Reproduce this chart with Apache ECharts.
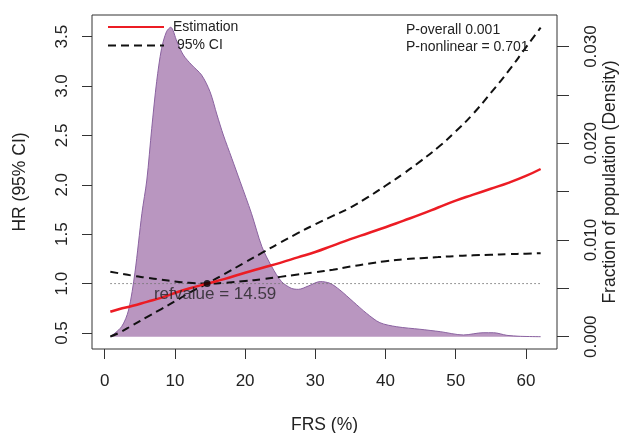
<!DOCTYPE html>
<html>
<head>
<meta charset="utf-8">
<style>
  html, body { margin: 0; padding: 0; background: #fff; }
  #chart { width: 621px; height: 433px; }
</style>
<script src="https://cdn.jsdelivr.net/npm/echarts@6/dist/echarts.min.js"></script>
</head>
<body>
<div id="chart"></div>
<script>
// FRS values where the spline curves were read
const frs = [0.8, 2, 4, 6, 8, 10, 12, 14.59, 17, 20, 22.5, 25, 27.5, 30, 32.5, 35, 37.5, 40, 42.5, 45, 47.5, 50, 52.5, 55, 57.5, 60, 62.1];
const hrEst = [0.715, 0.74, 0.775, 0.815, 0.855, 0.905, 0.95, 1.0, 1.045, 1.11, 1.16, 1.21, 1.265, 1.32, 1.385, 1.45, 1.51, 1.57, 1.635, 1.70, 1.77, 1.84, 1.90, 1.96, 2.02, 2.09, 2.16];
const hrUpper = [0.465, 0.50, 0.58, 0.66, 0.74, 0.82, 0.905, 1.0, 1.095, 1.215, 1.315, 1.415, 1.51, 1.60, 1.685, 1.77, 1.875, 1.99, 2.11, 2.24, 2.38, 2.54, 2.72, 2.93, 3.15, 3.39, 3.59];
const hrLower = [1.12, 1.105, 1.08, 1.06, 1.04, 1.022, 1.008, 1.0, 1.008, 1.026, 1.045, 1.068, 1.092, 1.115, 1.14, 1.172, 1.20, 1.227, 1.245, 1.257, 1.268, 1.279, 1.286, 1.292, 1.298, 1.303, 1.307];

// density of FRS in the population
const densX = [0.8, 2.4, 3.4, 4.3, 5.3, 6.0, 6.7, 7.4, 8.1, 8.8, 9.4, 10.3, 11.2, 12.4, 13.8, 15.0, 16.0, 16.9, 18.1, 19.3, 20.9, 22.4, 23.8, 25.2, 26.6, 27.6, 29.0, 30.7, 32.1, 33.5, 35.4, 37.3, 39.2, 41.6, 44.9, 47.8, 51.1, 53.9, 55.4, 57.3, 59.2, 62.1];
const densY = [0, 0.00103, 0.00276, 0.0066, 0.01276, 0.0162, 0.02155, 0.02637, 0.0298, 0.03154, 0.0320, 0.0305, 0.02913, 0.0281, 0.02706, 0.02534, 0.02293, 0.02086, 0.01845, 0.01603, 0.01276, 0.0093, 0.00724, 0.00569, 0.005, 0.0049, 0.00524, 0.0057, 0.00552, 0.00483, 0.00362, 0.00242, 0.00145, 0.00103, 0.00077, 0.00052, 0.00018, 0.00041, 0.00041, 0.00014, 0.00004, 0];

const refValue = 14.59;
const refLine = [[0.8, 1], [62.1, 1]];

const xTicks = [0, 10, 20, 30, 40, 50, 60];
const hrTicks = [0.5, 1.0, 1.5, 2.0, 2.5, 3.0, 3.5];
const densTicks = [0, 0.005, 0.010, 0.015, 0.020, 0.025, 0.030];
const densLabels = [0, 0.010, 0.020, 0.030];

const font = "'Liberation Sans', Arial, sans-serif";
const ink = "#222";

const pair = (xs, ys) => xs.map((x, i) => [x, ys[i]]);

const chart = echarts.init(document.getElementById("chart"));

const option = {
  animation: false,
  textStyle: { fontFamily: font },
  title: {
    text: "P-overall 0.001\nP-nonlinear = 0.701",
    left: 406,
    top: 21,
    padding: 0,
    textStyle: { fontSize: 14, fontWeight: "normal", color: ink, lineHeight: 17.3, fontFamily: font },
  },
  legend: {
    orient: "vertical",
    left: 107,
    top: 20,
    padding: 0,
    itemWidth: 56,
    itemHeight: 14,
    itemGap: 4.4,
    itemStyle: { opacity: 0 },
    data: ["Estimation", "95% CI"],
    formatter: (name) => (name === "95% CI" ? " " + name : name),
    textStyle: { fontSize: 14, color: ink, lineHeight: 14, fontFamily: font, padding: [0, 0, 0, 4] },
  },
  grid: {
    left: 92,
    top: 15,
    width: 465,
    height: 334,
    show: true,
    borderColor: "#333",
    borderWidth: 1,
    outerBoundsMode: "none",
  },
  xAxis: {
    type: "value",
    min: -1.81,
    max: 64.43,
    name: "FRS (%)",
    nameLocation: "middle",
    nameGap: 67,
    nameMoveOverlap: false,
    nameTextStyle: { fontSize: 17.5, color: ink, fontFamily: font },
    axisLine: { show: false, onZero: false },
    axisTick: { show: true, length: 10, customValues: xTicks, lineStyle: { color: "#333" } },
    axisLabel: { customValues: xTicks, fontSize: 17, color: ink, margin: 24, fontFamily: font },
    splitLine: { show: false },
  },
  yAxis: [
    {
      type: "value",
      min: 0.338,
      max: 3.7186,
      name: "HR (95% CI)",
      nameLocation: "middle",
      nameRotate: 90,
      nameGap: 63,
      nameMoveOverlap: false,
      nameTextStyle: { fontSize: 17.5, color: ink, fontFamily: font },
      axisLine: { show: false, onZero: false },
      axisTick: { show: true, length: 10, customValues: hrTicks, lineStyle: { color: "#333" } },
      axisLabel: {
        customValues: hrTicks,
        rotate: 90,
        fontSize: 17,
        color: ink,
        margin: 21,
        fontFamily: font,
        formatter: (v) => v.toFixed(1),
      },
      splitLine: { show: false },
    },
    {
      type: "value",
      position: "right",
      min: -0.001272,
      max: 0.033268,
      name: "Fraction of population (Density)",
      nameLocation: "middle",
      nameRotate: 90,
      nameGap: 44,
      nameMoveOverlap: false,
      nameTextStyle: { fontSize: 17.5, color: ink, fontFamily: font },
      axisLine: { show: false, onZero: false },
      axisTick: { show: true, length: 12, customValues: densTicks, lineStyle: { color: "#333" } },
      axisLabel: {
        customValues: densLabels,
        rotate: 90,
        fontSize: 17,
        color: ink,
        margin: 26,
        fontFamily: font,
        formatter: (v) => v.toFixed(3),
      },
      splitLine: { show: false },
    },
  ],
  series: [
    {
      name: "Density",
      type: "line",
      yAxisIndex: 1,
      data: pair(densX, densY),
      smooth: 0.3,
      symbol: "none",
      lineStyle: { color: "#8a62a0", width: 1 },
      areaStyle: { color: "#b996c0", opacity: 1 },
      z: 1,
    },
    {
      name: "ref",
      type: "line",
      data: refLine,
      symbol: "none",
      lineStyle: { color: "#777", width: 1, type: [1.5, 2.5] },
      z: 2,
    },
    {
      name: "95% CI",
      type: "line",
      data: pair(frs, hrUpper),
      smooth: true,
      symbol: "none",
      itemStyle: { color: "#111" },
      lineStyle: { color: "#111", width: 2, type: [8, 5] },
      z: 3,
    },
    {
      name: "95% CI",
      type: "line",
      data: pair(frs, hrLower),
      smooth: true,
      symbol: "none",
      itemStyle: { color: "#111" },
      lineStyle: { color: "#111", width: 2, type: [8, 5] },
      z: 3,
    },
    {
      name: "Estimation",
      type: "line",
      data: pair(frs, hrEst),
      smooth: true,
      symbol: "none",
      itemStyle: { color: "#ec1c24" },
      lineStyle: { color: "#ec1c24", width: 2.5 },
      z: 4,
    },
    {
      name: "refvalue",
      type: "scatter",
      data: [[refValue, 1]],
      symbolSize: 7,
      itemStyle: { color: "#000" },
      label: {
        show: true,
        position: "inside",
        offset: [8, 11],
        formatter: "refvalue = " + refValue,
        fontSize: 17,
        color: ink,
        fontFamily: font,
      },
      z: 5,
    },
  ],
};

chart.setOption(option);
</script>
</body>
</html>
